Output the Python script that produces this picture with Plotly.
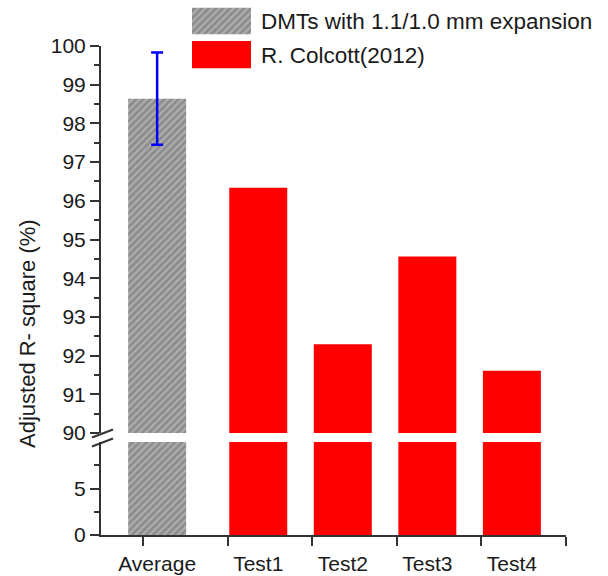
import plotly.graph_objects as go

# ---- data ----
categories = ["Average", "Test1", "Test2", "Test3", "Test4"]
dmt_label = "DMTs with 1.1/1.0 mm expansion"
ref_label = "R. Colcott(2012)"
dmt_value = [98.64]
dmt_error = [1.19]
ref_values = [96.34, 92.29, 94.56, 91.61]
upper_ticks = [90, 91, 92, 93, 94, 95, 96, 97, 98, 99, 100]
lower_ticks = [0, 5]

# ---- figure geometry (pixels) ----
W, H = 608, 576
FONT = "Arial, Liberation Sans, sans-serif"
TXT = "#1a1a1a"
AX = "#333333"
GRAY_BG, GRAY_FG = "#8c8c8c", "#cfcfcf"
RED = "#ff0000"


def fx(p):
    return p / W


def fy(p):
    return 1 - p / H


# bar centre positions on the numeric x axis (tick slots at 1..6)
bar_x = [1.164, 2.36, 3.36, 4.36, 5.36]
bar_w = 0.686

hatch = dict(shape="/", bgcolor=GRAY_BG, fgcolor=GRAY_FG, size=5, solidity=0.45)

fig = go.Figure()
for yax in ("y", "y2"):
    fig.add_trace(go.Bar(
        x=bar_x[:1], y=dmt_value, width=bar_w, xaxis="x", yaxis=yax,
        marker=dict(color=GRAY_BG, pattern=hatch, line=dict(width=0)),
        error_y=dict(type="data", array=dmt_error, color="#0000ff",
                     thickness=2.5, width=6, visible=(yax == "y2")),
        showlegend=False, hoverinfo="skip"))
    fig.add_trace(go.Bar(
        x=bar_x[1:], y=ref_values, width=bar_w, xaxis="x", yaxis=yax,
        marker=dict(color=RED, line=dict(width=0)),
        showlegend=False, hoverinfo="skip"))

# legend swatches drawn as bars on small hidden axes
for i, mk in enumerate([dict(color=GRAY_BG, pattern=hatch, line=dict(width=0)),
                        dict(color=RED, line=dict(width=0))]):
    n = str(3 + i)
    fig.add_trace(go.Bar(x=[0], y=[1], width=1, xaxis="x" + n, yaxis="y" + n,
                         marker=mk, showlegend=False, hoverinfo="skip"))

tickfont = dict(family=FONT, size=21, color=TXT)
common_y = dict(showline=True, linecolor=AX, linewidth=2, ticks="outside",
                ticklen=9, tickwidth=2, tickcolor=AX, showgrid=False,
                zeroline=False, tickfont=tickfont, anchor="x",
                automargin=False)

fig.update_layout(
    width=W, height=H,
    margin=dict(l=0, r=0, t=0, b=0, pad=0, autoexpand=False),
    paper_bgcolor="white", plot_bgcolor="rgba(0,0,0,0)",
    barmode="overlay",
    xaxis=dict(domain=[fx(101), fx(566)], range=[0.5, 6.0], anchor="y",
               automargin=False,
               showline=True, linecolor=AX, linewidth=2, showgrid=False,
               zeroline=False, tickmode="array", tickvals=bar_x,
               ticktext=categories, ticks="outside", ticklen=9,
               tickcolor="rgba(0,0,0,0)", tickfont=tickfont,
               minor=dict(tickmode="array", tickvals=[1, 2, 3, 4, 5, 6],
                          ticks="outside", ticklen=9, tickwidth=2,
                          tickcolor=AX, showgrid=False)),
    yaxis=dict(domain=[fy(535), fy(442)], range=[0, 10], tickmode="array",
               tickvals=lower_ticks,
               minor=dict(tickmode="array", tickvals=[2.5, 7.5],
                          ticks="outside", ticklen=5, tickwidth=2,
                          tickcolor=AX, showgrid=False),
               **common_y),
    yaxis2=dict(domain=[fy(433), fy(46)], range=[89.999, 100.001],
                tickmode="array", tickvals=upper_ticks,
                minor=dict(tickmode="array",
                           tickvals=[t + 0.5 for t in upper_ticks[:-1]],
                           ticks="outside", ticklen=5, tickwidth=2,
                           tickcolor=AX, showgrid=False),
                **common_y),
    xaxis3=dict(domain=[fx(192), fx(251)], range=[-0.5, 0.5], visible=False,
                anchor="y3"),
    yaxis3=dict(domain=[fy(34.5), fy(7.5)], range=[0, 1], visible=False,
                anchor="x3"),
    xaxis4=dict(domain=[fx(192), fx(251)], range=[-0.5, 0.5], visible=False,
                anchor="y4"),
    yaxis4=dict(domain=[fy(68.5), fy(41)], range=[0, 1], visible=False,
                anchor="x4"),
)

# legend texts
for label, yc in ((dmt_label, 21), (ref_label, 55)):
    fig.add_annotation(x=fx(259), y=fy(yc), xref="paper", yref="paper",
                       text=label, showarrow=False, xanchor="left",
                       yanchor="middle",
                       font=dict(family=FONT, size=22.5, color=TXT))

# y axis title
fig.add_annotation(x=fx(27), y=fy(334), xref="paper", yref="paper",
                   text="Adjusted R- square (%)", textangle=-90,
                   showarrow=False, xanchor="center", yanchor="middle",
                   font=dict(family=FONT, size=22, color=TXT))

# axis-break marks
gap_c = fy(437.5)
for dy0, dy1 in ((0, 8), (-9, -1)):
    fig.add_shape(type="line", xref="paper", yref="paper",
                  xsizemode="pixel", ysizemode="pixel",
                  xanchor=fx(101), yanchor=gap_c,
                  x0=-9, x1=12, y0=dy0, y1=dy1,
                  line=dict(color=AX, width=2))

fig.write_html("out.html")
